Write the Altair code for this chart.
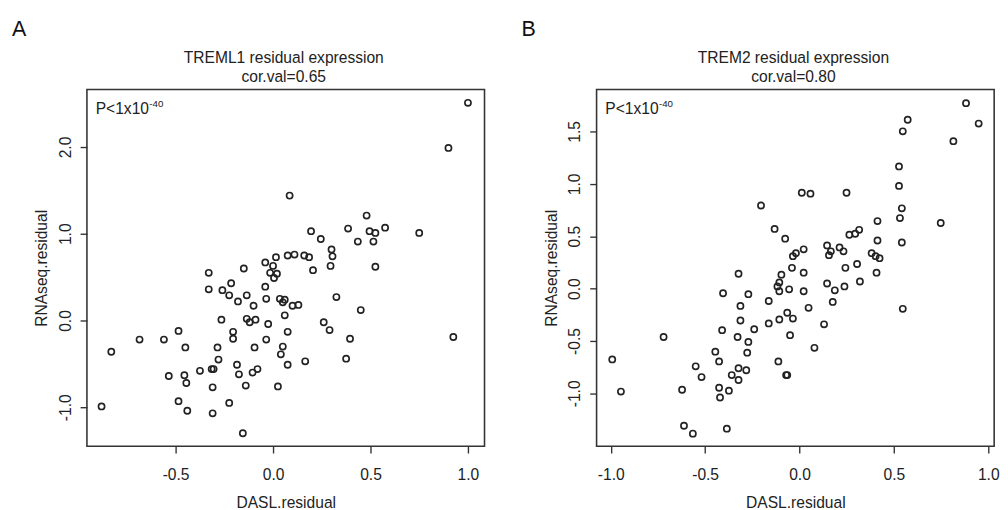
import altair as alt
import pandas as pd

# ---- Panel A: TREML1 (DASL.residual vs RNAseq.residual) ----
treml1_dasl = [1.00, 0.90, 0.085, 0.48, 0.195, 0.245, 0.385, 0.495, 0.525, 0.575,
               0.435, 0.515, 0.75, 0.30, 0.015, 0.075, 0.11, 0.16, 0.185, 0.305,
               0.295, 0.205, 0.525, 0.0, 0.02, 0.005, 0.035, 0.06, 0.05, 0.10,
               0.13, 0.325, 0.45, 0.06, 0.26, 0.29, 0.075, 0.395, 0.925, 0.05,
               0.04, 0.375, 0.075, 0.165, 0.025, -0.04, -0.15, -0.33, -0.015, -0.04,
               -0.215, -0.33, -0.26, -0.225, -0.135, -0.18, -0.035, -0.10, -0.265, -0.135,
               -0.12, -0.09, -0.025, -0.485, -0.205, -0.205, -0.685, -0.56, -0.035, -0.83,
               -0.45, -0.285, -0.095, -0.28, -0.185, -0.375, -0.315, -0.305, -0.175, -0.105,
               -0.08, -0.535, -0.455, -0.445, -0.31, -0.14, -0.485, -0.225, -0.88, -0.44,
               -0.31, -0.155]
treml1_rnaseq = [2.51, 1.99, 1.44, 1.21, 1.03, 0.94, 1.06, 1.03, 1.01, 1.07,
                 0.91, 0.91, 1.01, 0.82, 0.73, 0.75, 0.76, 0.75, 0.73, 0.74,
                 0.63, 0.58, 0.62, 0.63, 0.54, 0.49, 0.25, 0.24, 0.21, 0.17,
                 0.18, 0.27, 0.12, 0.06, -0.02, -0.11, -0.13, -0.21, -0.19, -0.30,
                 -0.39, -0.44, -0.51, -0.47, -0.76, 0.67, 0.60, 0.55, 0.55, 0.39,
                 0.43, 0.36, 0.35, 0.29, 0.29, 0.22, 0.25, 0.17, 0.01, 0.02,
                 -0.02, 0.01, -0.04, -0.12, -0.13, -0.21, -0.22, -0.22, -0.22, -0.36,
                 -0.31, -0.31, -0.31, -0.45, -0.51, -0.58, -0.56, -0.56, -0.62, -0.60,
                 -0.56, -0.64, -0.63, -0.72, -0.77, -0.75, -0.93, -0.95, -0.99, -1.04,
                 -1.07, -1.30]

# ---- Panel B: TREM2 ----
trem2_dasl = [-0.204, -0.132, 0.882, 0.573, 0.547, 0.815, 0.527, 0.527, 0.012, 0.058,
              0.249, 0.542, 0.532, 0.748, 0.413, -0.076, 0.264, 0.295, 0.316, 0.413,
              0.542, 0.146, 0.022, -0.019, -0.035, 0.166, 0.156, 0.212, 0.233, 0.382,
              0.403, 0.424, -0.040, 0.022, 0.243, 0.305, 0.408, -0.096, -0.107, -0.117,
              -0.107, -0.055, 0.022, 0.146, 0.187, 0.238, 0.320, -0.163, 0.048, 0.176,
              0.547, -0.065, -0.107, -0.035, -0.163, 0.130, -0.050, 0.079, -0.112, -0.071,
              -0.323, -0.405, -0.271, -0.313, -0.313, -0.410, -0.240, -0.720, -0.328, -0.271,
              -0.446, -0.426, -0.277, -0.992, -0.550, -0.519, -0.359, -0.323, -0.282, -0.323,
              -0.946, -0.622, -0.426, -0.421, -0.374, -0.612, -0.565, -0.385, 0.949, -0.065]
trem2_rnaseq = [0.793, 0.570, 1.770, 1.612, 1.501, 1.407, 1.166, 0.980, 0.915, 0.906,
                0.915, 0.766, 0.673, 0.626, 0.645, 0.477, 0.514, 0.524, 0.561, 0.459,
                0.440, 0.412, 0.375, 0.338, 0.310, 0.356, 0.319, 0.393, 0.356, 0.338,
                0.310, 0.291, 0.198, 0.152, 0.198, 0.235, 0.152, 0.133, 0.059, 0.021,
                -0.025, -0.007, -0.025, 0.049, -0.016, 0.021, 0.068, -0.118, -0.183, -0.127,
                -0.193, -0.230, -0.295, -0.286, -0.332, -0.341, -0.444, -0.565, -0.695, -0.825,
                0.142, -0.044, -0.053, -0.165, -0.304, -0.397, -0.388, -0.462, -0.462, -0.509,
                -0.602, -0.695, -0.611, -0.676, -0.742, -0.844, -0.825, -0.760, -0.779, -0.872,
                -0.983, -0.965, -0.946, -1.039, -0.974, -1.309, -1.384, -1.337, 1.575, -0.825]

FONT = "Liberation Sans"
INK = "#222222"
HYPHEN_LABEL = "datum.value < 0 ? '-' + format(-datum.value, '.1f') : format(datum.value, '.1f')"


def text_layer(txt, x, y, size, align="left", color=INK):
    return alt.Chart(pd.DataFrame({"t": [txt]})).mark_text(
        align=align, baseline="alphabetic", fontSize=size, font=FONT, color=color
    ).encode(text="t:N", x=alt.value(x), y=alt.value(y))


def panel(letter, title_lines, xs, ys, xdom, ydom, xticks, yticks):
    df = pd.DataFrame({"dasl": xs, "rnaseq": ys})
    pts = alt.Chart(df).mark_point(
        shape="circle", filled=False, stroke=INK, strokeWidth=1.7, size=40, opacity=1
    ).encode(
        x=alt.X("dasl:Q",
                scale=alt.Scale(domain=xdom, nice=False, zero=False),
                axis=alt.Axis(values=xticks, labelExpr=HYPHEN_LABEL, title="DASL.residual",
                              labelPadding=14, titlePadding=13)),
        y=alt.Y("rnaseq:Q",
                scale=alt.Scale(domain=ydom, nice=False, zero=False),
                axis=alt.Axis(values=yticks, labelExpr=HYPHEN_LABEL, title="RNAseq.residual",
                              labelAngle=270, labelAlign="center", labelBaseline="bottom",
                              labelPadding=7)),
    )
    layers = [
        pts,
        text_layer(letter, -77, -55, 22, color="#111"),
        text_layer(title_lines[0], 202, -27, 16, align="center"),
        text_layer(title_lines[1], 202, -8, 16, align="center"),
        text_layer("P<1x10", 9, 25, 16),
        text_layer("-40", 64, 18, 10),
    ]
    return alt.layer(*layers).properties(width=408, height=366)


chart_a = panel("A", ["TREML1 residual expression", "cor.val=0.65"],
                treml1_dasl, treml1_rnaseq, [-0.955, 1.085], [-1.449, 2.663],
                [-0.5, 0.0, 0.5, 1.0], [-1.0, 0.0, 1.0, 2.0])
chart_b = panel("B", ["TREM2 residual expression", "cor.val=0.80"],
                trem2_dasl, trem2_rnaseq, [-1.075, 1.031], [-1.504, 1.900],
                [-1.0, -0.5, 0.0, 0.5, 1.0], [-1.0, -0.5, 0.0, 0.5, 1.0, 1.5])

chart = alt.hconcat(chart_a, chart_b, spacing=36).properties(
    padding={"left": 3, "top": 3, "right": 0, "bottom": 0}
).configure(font=FONT).configure_view(
    stroke="#333333", strokeWidth=1.6
).configure_axis(
    domain=False, grid=False, tickSize=7, tickColor="#333333", tickWidth=1.4,
    labelFontSize=16, labelFont=FONT, labelColor=INK, labelPadding=4,
    titleFontSize=16, titleFont=FONT, titleColor=INK, titleFontWeight="normal",
    titlePadding=8,
)

chart.save("out.html", embed_options={"renderer": "svg", "actions": False})
